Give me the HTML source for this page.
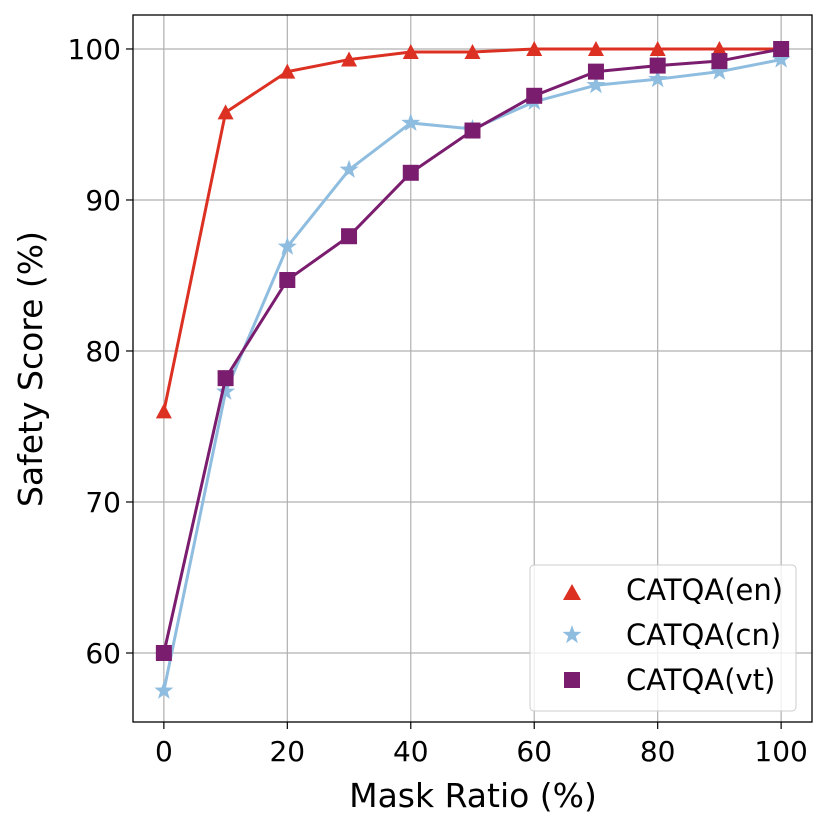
<!DOCTYPE html>
<html><head><meta charset="utf-8"><style>
body{margin:0;background:#fff}
svg text{font-family:"DejaVu Sans","Liberation Sans",sans-serif;fill:#000}
</style></head><body>
<svg id="chart" width="831" height="830" xmlns="http://www.w3.org/2000/svg">
<g id="grid"></g>
<g id="series"></g>
<rect x="133" y="15" width="679" height="707" fill="none" stroke="#000" stroke-width="1.3"/>
<g id="ticks"></g>
<text x="473" y="807" font-size="33" text-anchor="middle">Mask Ratio (%)</text>
<text transform="translate(42,369) rotate(-90)" font-size="33" text-anchor="middle">Safety Score (%)</text>
<g>
<rect x="530" y="565" width="266" height="146" rx="4" fill="#fff" fill-opacity="0.8" stroke="#ccc"/>
<path d="M563,600 L581,600 L572,584 Z" fill="#dc3023"/>
<text x="626" y="600" font-size="29">CATQA(en)</text>
<path id="lstar" fill="#8fbde0"/>
<text x="626" y="645" font-size="29">CATQA(cn)</text>
<rect x="564" y="672" width="16" height="16" fill="#7b1d6e"/>
<text x="626" y="690" font-size="29">CATQA(vt)</text>
</g>
</svg>
<script>
const categories=[0,10,20,30,40,50,60,70,80,90,100];
const enValues=[76.0,95.8,98.5,99.3,99.8,99.8,100,100,100,100,100];
const cnValues=[57.5,77.3,86.9,92.0,95.1,94.7,96.5,97.6,98.0,98.5,99.3];
const vtValues=[60.0,78.2,84.7,87.6,91.8,94.6,96.9,98.5,98.9,99.2,100];
const xTicks=[0,20,40,60,80,100];
const yTicks=[60,70,80,90,100];
const NS="http://www.w3.org/2000/svg";
const X0=133,X1=812,Y0=15,Y1=722,xmin=-5,xmax=105,ymin=55.43,ymax=102.25;
const sx=v=>X0+(v-xmin)/(xmax-xmin)*(X1-X0);
const sy=v=>Y1-(v-ymin)/(ymax-ymin)*(Y1-Y0);
function mk(t,a,p){const e=document.createElementNS(NS,t);for(const k in a)e.setAttribute(k,a[k]);p.appendChild(e);return e;}
function star(x,y){let d='';for(let j=0;j<10;j++){const r=j%2?4:10,a=-Math.PI/2+j*Math.PI/5;d+=(j?'L':'M')+(x+r*Math.cos(a))+','+(y+r*Math.sin(a));}return d+'Z';}
document.getElementById('lstar').setAttribute('d',star(572,635));
const grid=document.getElementById('grid'),ticks=document.getElementById('ticks'),ser=document.getElementById('series');
xTicks.forEach(t=>{const x=sx(t);
 let l=mk('line',{x1:x,x2:x,y1:Y0,y2:Y1,stroke:'#b0b0b0','stroke-width':1.2},grid);
 
 let k=mk('line',{x1:x,x2:x,y1:Y1,y2:Y1+7,stroke:'#000','stroke-width':1.2},ticks);
 
 let tx=mk('text',{x:x,y:Y1+39,'font-size':28,'text-anchor':'middle'},ticks);tx.textContent=t;
 });
yTicks.forEach(t=>{const y=sy(t);
 let l=mk('line',{x1:X0,x2:X1,y1:y,y2:y,stroke:'#b0b0b0','stroke-width':1.2},grid);
 
 let k=mk('line',{x1:X0-7,x2:X0,y1:y,y2:y,stroke:'#000','stroke-width':1.2},ticks);
 
 let tx=mk('text',{x:X0-12,y:y+10,'font-size':28,'text-anchor':'end'},ticks);tx.textContent=t;
 });
function series(vals,color,kind,name){
 const pts=vals.map((v,i)=>sx(categories[i])+','+sy(v)).join(' ');
 let pl=mk('polyline',{points:pts,fill:'none',stroke:color,'stroke-width':3},ser);
 
 vals.forEach((v,i)=>{const x=sx(categories[i]),y=sy(v);let m;
  if(kind==='tri')m=mk('path',{d:`M${x-8},${y+7} L${x+8},${y+7} L${x},${y-8} Z`,fill:color},ser);
  else if(kind==='sq')m=mk('rect',{x:x-8,y:y-8,width:16,height:16,fill:color},ser);
  else m=mk('path',{d:star(x,y),fill:color},ser);
  });
}
series(enValues,'#dc3023','tri','catqa-en');
series(cnValues,'#8fbde0','star','catqa-cn');
series(vtValues,'#7b1d6e','sq','catqa-vt');
</script>
</body></html>
